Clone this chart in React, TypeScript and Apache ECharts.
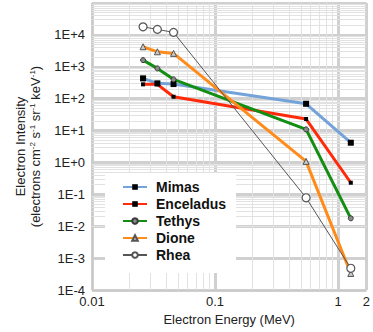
import React, { useEffect, useRef } from "react";
import * as echarts from "echarts";

const energies = [0.026, 0.034, 0.046, 0.55, 1.27];
const mimas = [433, 302, 287, 69, 4.15];
const enceladus = [281, 281, 115, 23, 0.231];
const tethys = [1620, 890, 403, 10.9, 0.0177];
const dione = [4240, 2950, 2630, 1.08, 0.00033];
const rhea = [17900, 14900, 12000, 0.078, 0.00048];

const seriesNames = ["Mimas", "Enceladus", "Tethys", "Dione", "Rhea"];
const yExponents = [-4, -3, -2, -1, 0, 1, 2, 3, 4, 5];
const xExponents = [-2, -1, 0];

const FONT = "'Liberation Sans', Arial, Helvetica, sans-serif";

function pairs(vals: number[]) {
  return vals.map((v, i) => [energies[i], v]);
}

export default function App() {
  const ref = useRef<HTMLDivElement>(null);
  useEffect(() => {
    if (!ref.current) return;
    const chart = echarts.init(ref.current, null, { renderer: "svg" });

    const yMinor: any[] = [];
    yExponents.slice(0, -1).forEach((e) => {
      for (let m = 2; m <= 9; m++) yMinor.push({ yAxis: m * Math.pow(10, e) });
    });
    const xMinor: any[] = [];
    xExponents.forEach((e) => {
      for (let m = 2; m <= 9; m++) {
        const v = m * Math.pow(10, e);
        if (v < 1.7) xMinor.push({ xAxis: v });
      }
    });

    const mkLine = (name: string, data: number[], color: string, width: number, symbol: string, size: number, fill: string, border: string, bw: number) => ({
      name,
      type: "line",
      data: pairs(data),
      symbol,
      symbolSize: size,
      lineStyle: { color, width },
      itemStyle: { color: fill, borderColor: border, borderWidth: bw },
      color,
      z: 3,
    });

    chart.setOption({
      animation: false,
      grid: { left: 92, right: 1, top: 3, bottom: 42, containLabel: false },
      legend: {
        data: seriesNames,
        orient: "vertical",
        left: 105,
        top: 173,
        backgroundColor: "#ffffff",
        padding: [6, 10, 10, 17],
        itemWidth: 24,
        itemHeight: 7,
        itemGap: 1,
        textStyle: { fontFamily: FONT, fontSize: 14, fontWeight: "bold", color: "#111", lineHeight: 16, padding: [0, 0, 0, 4] },
        z: 10,
      },
      xAxis: {
        type: "log",
        logBase: 10,
        min: 0.01,
        max: 1.7,
        splitNumber: 3,
        name: "Electron Energy (MeV)",
        nameLocation: "middle",
        nameGap: 17,
        nameTextStyle: { fontFamily: FONT, fontSize: 13, color: "#222" },
        axisLine: { show: true, lineStyle: { color: "#c8c8c8", width: 1 } },
        axisTick: { show: false },
        axisLabel: {
          fontFamily: FONT,
          fontSize: 13,
          color: "#222",
          margin: 5,
          formatter: (v: number) => {
            const e = Math.round(Math.log10(v));
            return e < 0 ? v.toFixed(-e) : String(Math.round(v));
          },
        },
        splitLine: { show: true, lineStyle: { color: "#d0d0d0", width: 3 } },
      },
      yAxis: {
        type: "log",
        logBase: 10,
        min: 1e-4,
        max: 1e5,
        splitNumber: 9,
        name: "{a|Electron Intensity}\n{a|(electrons cm}{s|-2}{a| s}{s|-1}{a| sr}{s|-1}{a| keV}{s|-1}{a|)}",
        nameLocation: "middle",
        nameRotate: 90,
        nameGap: 49,
        nameTextStyle: {
          fontFamily: FONT,
          fontSize: 13,
          color: "#222",
          rich: {
            a: { fontFamily: FONT, fontSize: 13, color: "#222", lineHeight: 15 },
            s: { fontFamily: FONT, fontSize: 8, color: "#222", verticalAlign: "top" },
          },
        },
        axisLine: { show: true, lineStyle: { color: "#c8c8c8", width: 1 } },
        axisTick: { show: false },
        axisLabel: {
          fontFamily: FONT,
          fontSize: 13,
          color: "#222",
          margin: 7,
          formatter: (v: number) => {
            const e = Math.round(Math.log10(v));
            if (e === 5) return "";
            return "1E" + (e >= 0 ? "+" : "-") + Math.abs(e);
          },
        },
        splitLine: { show: true, lineStyle: { color: "#d0d0d0", width: 3 } },
      },
      series: [
        {
          name: "grid-minor",
          type: "line",
          data: [],
          silent: true,
          z: 1,
          markLine: {
            silent: true,
            symbol: "none",
            animation: false,
            z: 1,
            label: { show: false },
            emphasis: { disabled: true },
            lineStyle: { color: "#e2e2e2", width: 1, type: "solid" },
            data: [...yMinor, ...xMinor],
          },
        },
        mkLine("Mimas", mimas, "#74a3d9", 3, "rect", 6, "#000", "#000", 0),
        mkLine("Enceladus", enceladus, "#ff2a0a", 3, "rect", 4, "#000", "#000", 0),
        mkLine("Tethys", tethys, "#128f12", 3, "circle", 5, "#8a8a8a", "#3a3a3a", 1),
        mkLine("Dione", dione, "#ff8c1a", 3, "triangle", 6, "#c8c8c8", "#555", 1),
        mkLine("Rhea", rhea, "#555555", 1, "circle", 8, "#ffffff", "#555", 1.2),
      ],
    });
    return () => chart.dispose();
  }, []);
  return <div ref={ref} style={{ width: 373, height: 332, position: "absolute", left: 0, top: 0 }} />;
}
